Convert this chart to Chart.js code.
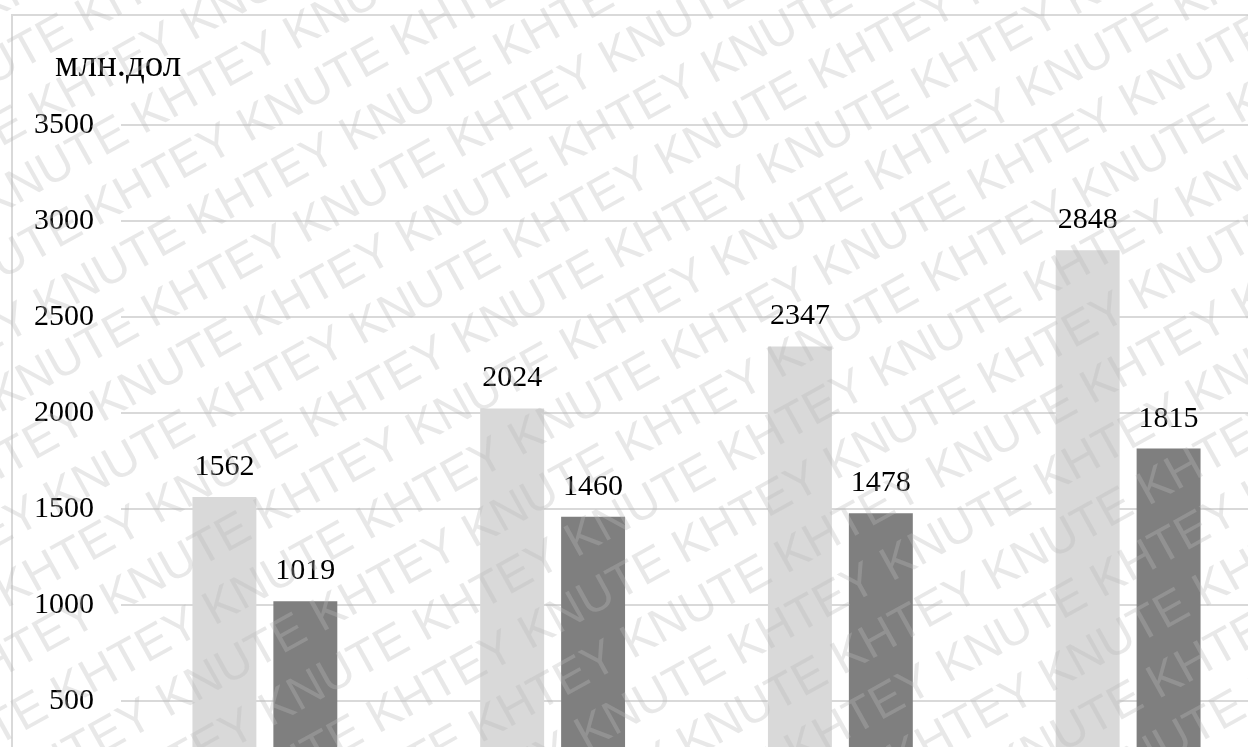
<!DOCTYPE html>
<html>
<head>
<meta charset="utf-8">
<script src="https://cdn.jsdelivr.net/npm/chart.js@4"></script>
<style>
  html, body { margin: 0; padding: 0; background: #fff; overflow: hidden; }
  #wrap { position: absolute; left: 0; top: 0; width: 1320px; height: 900px; }
</style>
</head>
<body>
<div id="wrap"><canvas id="chart"></canvas></div>
<script>
// data
const years = ['2016', '2017', '2018', '2019'];
const exportValues = [1562, 2024, 2347, 2848];
const importValues = [1019, 1460, 1478, 1815];
const seriesNames = ['Експорт', 'Імпорт'];
const yTicks = [0, 500, 1000, 1500, 2000, 2500, 3000, 3500];
const unitLabel = 'млн.дол';
const watermark = 'KNUTE KHTEY ';

const serif = "'Liberation Serif', 'Times New Roman', serif";

// frame, unit title, value labels and watermark
const decor = {
  id: 'decor',
  beforeDraw(chart) {
    const c = chart.ctx;
    c.save();
    c.strokeStyle = '#d9d9d9';
    c.lineWidth = 2;
    c.strokeRect(12, 15, 1290, 1000);
    c.restore();
  },
  afterDatasetsDraw(chart) {
    const c = chart.ctx;
    c.save();
    c.fillStyle = '#000';
    c.font = '30px ' + serif;
    c.textAlign = 'center';
    c.textBaseline = 'alphabetic';
    chart.data.datasets.forEach((ds, i) => {
      chart.getDatasetMeta(i).data.forEach((bar, j) => {
        c.fillText(String(ds.data[j]), bar.x, bar.y - 22);
      });
    });
    // unit title above the axis
    c.font = '37px ' + serif;
    c.textAlign = 'left';
    c.fillText(unitLabel, 55, 76);
    c.restore();
  },
  afterDraw(chart) {
    const c = chart.ctx;
    c.save();
    c.fillStyle = 'rgba(185,185,185,0.33)';
    c.font = "48px 'Liberation Sans', Arial, sans-serif";
    c.textBaseline = 'middle';
    c.rotate(-29 * Math.PI / 180);
    const line = watermark.repeat(10);
    for (let k = -10; k < 30; k++) {
      c.fillText(line, -900 + (k % 2) * 85, k * 58);
    }
    c.restore();
  }
};

new Chart(document.getElementById('chart'), {
  type: 'bar',
  data: {
    labels: years,
    datasets: [
      { label: seriesNames[0], data: exportValues, backgroundColor: '#d9d9d9' },
      { label: seriesNames[1], data: importValues, backgroundColor: '#7f7f7f' }
    ]
  },
  options: {
    responsive: true,
    maintainAspectRatio: false,
    animation: false,
    devicePixelRatio: 1,
    categoryPercentage: 0.5625,
    barPercentage: 0.79,
    layout: { padding: { left: 7, top: 125, right: 48, bottom: 53 } },
    plugins: {
      legend: { display: false },
      tooltip: { enabled: false }
    },
    scales: {
      x: {
        grid: { display: false },
        border: { display: false },
        ticks: { color: '#000', font: { family: serif, size: 30 } }
      },
      y: {
        min: 0,
        max: 3500,
        afterBuildTicks(scale) { scale.ticks = yTicks.map(v => ({ value: v })); },
        grid: { color: '#d9d9d9', lineWidth: 2, drawTicks: false },
        border: { display: false },
        ticks: {
          color: '#000',
          padding: 27,
          font: { family: serif, size: 30 },
          callback: v => String(v)
        }
      }
    }
  },
  plugins: [decor]
});
</script>
</body>
</html>
